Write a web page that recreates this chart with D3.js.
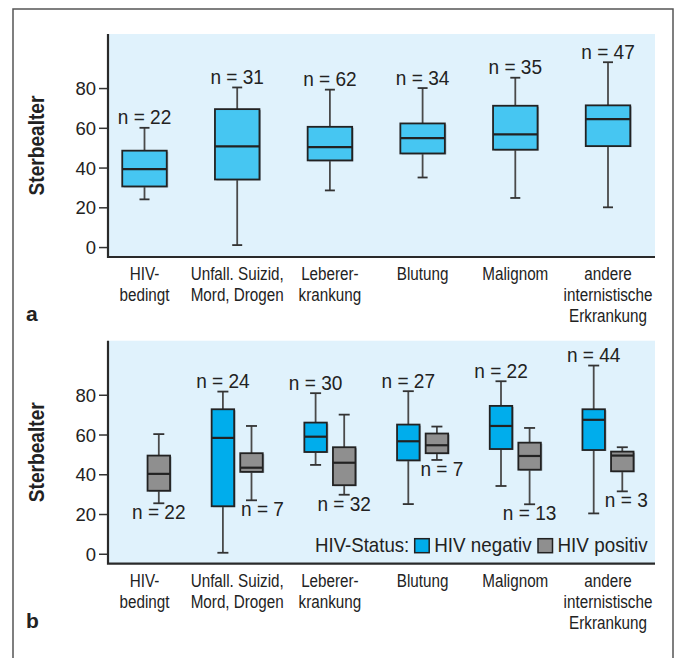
<!DOCTYPE html>
<html>
<head>
<meta charset="utf-8">
<script src="https://cdn.jsdelivr.net/npm/d3@7"></script>
<style>
  body { margin: 0; background: #fff; }
  text { font-family: "Liberation Sans", Arial, sans-serif; fill: #222; }
</style>
</head>
<body>
<div id="chart"></div>
<script>
// categories (label lines)
var categories = ["HIV-bedingt", "Unfall", "Leber", "Blutung", "Malignom", "andere"];
var categoryLines = [
  ["HIV-", "bedingt"],
  ["Unfall. Suizid,", "Mord, Drogen"],
  ["Leberer-", "krankung"],
  ["Blutung"],
  ["Malignom"],
  ["andere", "internistische", "Erkrankung"]
];
var yTicks = [0, 20, 40, 60, 80];

// panel a: all patients
var allLow    = [24, 1, 28.5, 35, 24.7, 20];
var allQ1     = [30.5, 34, 43.6, 47.1, 49, 50.8];
var allMedian = [39.2, 50.7, 50.3, 54.8, 56.7, 64.4];
var allQ3     = [48.5, 69.4, 60.5, 62.2, 71.1, 71.3];
var allHigh   = [60, 80.3, 79.2, 80, 85.2, 93];
var allN      = [22, 31, 62, 34, 35, 47];

// panel b: HIV negativ
var negLow    = [null, 0.5, 44.7, 25, 34.1, 20.3];
var negQ1     = [null, 23.9, 51.2, 47, 52.7, 52.2];
var negMedian = [null, 58.3, 58.9, 56.6, 64.3, 67.4];
var negQ3     = [null, 72.7, 66, 65, 74.4, 72.7];
var negHigh   = [null, 81.6, 80.8, 81.8, 86.8, 94.7];
var negN      = [null, 24, 30, 27, 22, 44];

// panel b: HIV positiv
var posLow    = [25.4, 26.9, 29.7, 47.2, 24.9, 31.4];
var posQ1     = [31.7, 41.2, 34.5, 50.6, 42.3, 41.5];
var posMedian = [40.2, 43.3, 45.8, 54.6, 49.2, 49.4];
var posQ3     = [49.4, 50.6, 53.6, 60.5, 55.9, 51.4];
var posHigh   = [60.2, 64.3, 70, 64, 63.3, 53.6];
var posN      = [22, 7, 32, 7, 13, 3];

var statusNames = ["HIV negativ", "HIV positiv"];

var width = 679, height = 658;
var plotLeft = 108, plotRight = 655;
var colAll = "#46c6f2", colNeg = "#00adec", colPos = "#8f8f8f";

var svg = d3.select("#chart").append("svg")
  .attr("width", width)
  .attr("height", height);

// outer frame
svg.append("path")
  .attr("d", "M13," + height + "V9H673V" + height)
  .attr("fill", "none")
  .attr("stroke", "#555")
  .attr("stroke-width", 1.5);

var x = d3.scalePoint()
  .domain(categories)
  .range([144.5, 608]);

var sub = d3.scalePoint()
  .domain(statusNames)
  .range([-14.3, 14.3]);

function rows(low, q1, med, q3, high, n) {
  return categories.map(function(c, i) {
    return { cat: c, low: low[i], q1: q1[i], med: med[i], q3: q3[i], high: high[i], n: n[i] };
  }).filter(function(d) { return d.med != null; });
}

function drawFrame(top, bottom, letter) {
  var y = d3.scaleLinear().domain([-5, 107.2]).range([bottom, top]);
  var g = svg.append("g");

  g.append("rect")
    .attr("x", plotLeft).attr("y", top)
    .attr("width", plotRight - plotLeft).attr("height", bottom - top)
    .attr("fill", "#e0f2fc");

  var ax = g.append("g")
    .attr("transform", "translate(" + plotLeft + ",0)")
    .call(d3.axisLeft(y).tickValues(yTicks).tickSize(9).tickPadding(3));
  ax.select(".domain").remove();
  ax.selectAll("line").attr("stroke", "#333").attr("stroke-width", 1.5);
  ax.selectAll("text")
    .style("font-family", "'Liberation Sans', Arial, sans-serif")
    .style("font-size", "18.5px")
    .attr("fill", "#222")
    .attr("dy", "0.36em");

  // axis lines
  g.append("path")
    .attr("d", "M" + plotLeft + "," + top + "V" + bottom + "H" + plotRight)
    .attr("fill", "none")
    .attr("stroke", "#2a2a2a")
    .attr("stroke-width", 2.2);

  // y title (condensed look)
  g.append("text")
    .attr("transform", "translate(44," + (top + bottom) / 2 + ") rotate(-90) scale(0.85,1)")
    .attr("text-anchor", "middle")
    .style("font-weight", "bold")
    .style("font-size", "22.5px")
    .text("Sterbealter");

  // category labels
  var cl = g.selectAll(".cat")
    .data(categories)
    .enter().append("text")
    .attr("class", "cat")
    .attr("text-anchor", "middle")
    .style("font-size", "17.5px")
    .attr("transform", function(d) { return "translate(" + x(d) + "," + (bottom + 23) + ") scale(0.87,1)"; });
  cl.selectAll("tspan")
    .data(function(d, i) { return categoryLines[i]; })
    .enter().append("tspan")
    .attr("x", 0)
    .attr("y", function(d, i) { return i * 21; })
    .text(function(d) { return d; });

  // panel letter
  g.append("text")
    .attr("x", 26).attr("y", bottom + 64)
    .style("font-weight", "bold")
    .style("font-size", "21px")
    .text(letter);

  return y;
}

function drawBoxes(data, y, offset, boxW, capW, fill, labelPos, nudge) {
  var g = svg.append("g");
  var b = g.selectAll(".box")
    .data(data)
    .enter().append("g")
    .attr("transform", function(d) { return "translate(" + (x(d.cat) + offset) + ",0)"; });

  b.append("line")
    .attr("y1", function(d) { return y(d.low); })
    .attr("y2", function(d) { return y(d.high); })
    .attr("stroke", "#4a4a4a").attr("stroke-width", 1.8);
  b.append("line")
    .attr("x1", -capW / 2).attr("x2", capW / 2)
    .attr("y1", function(d) { return y(d.low); })
    .attr("y2", function(d) { return y(d.low); })
    .attr("stroke", "#333").attr("stroke-width", 1.8);
  b.append("line")
    .attr("x1", -capW / 2).attr("x2", capW / 2)
    .attr("y1", function(d) { return y(d.high); })
    .attr("y2", function(d) { return y(d.high); })
    .attr("stroke", "#333").attr("stroke-width", 1.8);

  // slight shadow on the right
  b.append("rect")
    .attr("x", -boxW / 2 + 1.5)
    .attr("y", function(d) { return y(d.q3) + 1; })
    .attr("width", boxW)
    .attr("height", function(d) { return y(d.q1) - y(d.q3); })
    .attr("fill", "#7d8c96").attr("opacity", 0.7);
  b.append("rect")
    .attr("x", -boxW / 2)
    .attr("y", function(d) { return y(d.q3); })
    .attr("width", boxW)
    .attr("height", function(d) { return y(d.q1) - y(d.q3); })
    .attr("fill", fill)
    .attr("stroke", "#222").attr("stroke-width", 1.8);
  b.append("line")
    .attr("x1", -boxW / 2).attr("x2", boxW / 2)
    .attr("y1", function(d) { return y(d.med); })
    .attr("y2", function(d) { return y(d.med); })
    .attr("stroke", "#222").attr("stroke-width", 2.2);

  b.append("text")
    .attr("text-anchor", "middle")
    .attr("transform", function(d) {
      var nx = nudge ? (nudge[d.cat] || 0) : 0;
      var ny = labelPos === "above" ? y(d.high) - 3.5 : y(d.low) + 16;
      return "translate(" + nx + "," + ny + ") scale(0.93,1)";
    })
    .style("font-size", "20.5px")
    .text(function(d) { return "n = " + d.n; });
}

// panel a
var yA = drawFrame(34, 257, "a");
drawBoxes(rows(allLow, allQ1, allMedian, allQ3, allHigh, allN), yA, 0, 44.5, 10, colAll, "above");

// panel b
var yB = drawFrame(340.7, 563.7, "b");
drawBoxes(rows(negLow, negQ1, negMedian, negQ3, negHigh, negN), yB, sub("HIV negativ"), 22.5, 11, colNeg, "above");
drawBoxes(rows(posLow, posQ1, posMedian, posQ3, posHigh, posN), yB, sub("HIV positiv"), 22.5, 11, colPos, "below",
  { "Unfall": 11, "Blutung": 5, "andere": 4 });

// legend
var legend = svg.append("g").attr("transform", "translate(315,551.7)");
legend.append("text")
  .attr("transform", "scale(0.91,1)")
  .style("font-size", "20.5px").text("HIV-Status:");
var items = legend.selectAll(".item")
  .data(statusNames)
  .enter().append("g")
  .attr("transform", function(d, i) { return "translate(" + (99.7 + i * 123.3) + ",0)"; });
items.append("rect")
  .attr("y", -13).attr("width", 14.5).attr("height", 14)
  .attr("fill", function(d, i) { return i === 0 ? colNeg : colPos; })
  .attr("stroke", "#222").attr("stroke-width", 1.5);
items.append("text")
  .attr("transform", "translate(19.5,0) scale(0.92,1)")
  .style("font-size", "20.5px")
  .text(function(d) { return d; });
</script>
</body>
</html>
